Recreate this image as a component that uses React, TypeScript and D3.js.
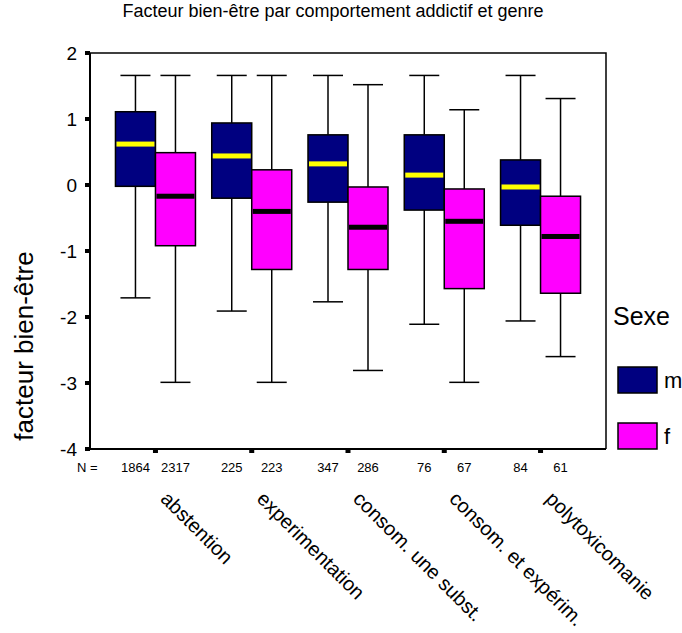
import { useRef, useEffect } from "react";
import * as d3 from "d3";

const categories = [
  "abstention",
  "experimentation",
  "consom. une subst.",
  "consom. et expérim.",
  "polytoxicomanie",
];
const sexes = ["m", "f"];
const yTicks = [2, 1, 0, -1, -2, -3, -4];

const nMale = [1864, 225, 347, 76, 84];
const nFemale = [2317, 223, 286, 67, 61];

const maleMin = [-1.71, -1.91, -1.77, -2.11, -2.06];
const maleQ1 = [-0.02, -0.2, -0.26, -0.38, -0.61];
const maleMedian = [0.62, 0.44, 0.32, 0.15, -0.03];
const maleQ3 = [1.11, 0.94, 0.76, 0.76, 0.38];
const maleMax = [1.66, 1.66, 1.66, 1.66, 1.66];

const femaleMin = [-2.99, -2.99, -2.81, -2.99, -2.6];
const femaleQ1 = [-0.92, -1.28, -1.28, -1.57, -1.64];
const femaleMedian = [-0.17, -0.4, -0.64, -0.55, -0.78];
const femaleQ3 = [0.49, 0.23, -0.03, -0.06, -0.17];
const femaleMax = [1.66, 1.66, 1.52, 1.14, 1.31];

const FONT = "'Liberation Sans', Arial, Helvetica, sans-serif";

const BoxChart = ({ width = 682, height = 633 }) => {
  const ref = useRef(null);

  useEffect(() => {
    if (!ref.current) return;
    const svg = d3.select(ref.current);
    svg.selectAll("*").remove(); // clear previous content

    const left = 90,
      right = 606,
      top = 53,
      bottom = 449;

    const y = d3.scaleLinear().domain([-4, 2]).range([bottom, top]);
    const x = d3.scalePoint().domain(categories).range([left, right]).padding(0.68);
    const sub = d3.scaleBand().domain(sexes).range([-40, 40]);
    const color = d3.scaleOrdinal().domain(sexes).range(["#000080", "#ff00ff"]);
    const medColor = d3.scaleOrdinal().domain(sexes).range(["#ffff00", "#000000"]);

    const rows = [];
    categories.forEach((c, i) => {
      rows.push({ cat: c, sex: "m", n: nMale[i], lo: maleMin[i], q1: maleQ1[i], med: maleMedian[i], q3: maleQ3[i], hi: maleMax[i] });
      rows.push({ cat: c, sex: "f", n: nFemale[i], lo: femaleMin[i], q1: femaleQ1[i], med: femaleMedian[i], q3: femaleQ3[i], hi: femaleMax[i] });
    });

    svg.attr("width", width).attr("height", height).style("font-family", FONT);

    // title
    svg
      .append("text")
      .attr("x", 333)
      .attr("y", 17)
      .attr("text-anchor", "middle")
      .style("font-size", "18px")
      .text("Facteur bien-être par comportement addictif et genre");

    // frame: top and right
    svg
      .append("path")
      .attr("d", `M${left},${top}H${right}V${bottom}`)
      .attr("fill", "none")
      .attr("stroke", "#000")
      .attr("stroke-width", 1.5);

    const bw = sub.bandwidth();
    const cx = (d) => x(d.cat) + sub(d.sex) + bw / 2;

    const g = svg.append("g");
    const box = g.selectAll("g.box").data(rows).enter().append("g");

    // whiskers
    box
      .append("line")
      .attr("x1", cx)
      .attr("x2", cx)
      .attr("y1", (d) => y(d.hi))
      .attr("y2", (d) => y(d.q3))
      .attr("stroke", "#000")
      .attr("stroke-width", 1.5);
    box
      .append("line")
      .attr("x1", cx)
      .attr("x2", cx)
      .attr("y1", (d) => y(d.q1))
      .attr("y2", (d) => y(d.lo))
      .attr("stroke", "#000")
      .attr("stroke-width", 1.5);
    ["hi", "lo"].forEach((k) => {
      box
        .append("line")
        .attr("x1", (d) => cx(d) - 15)
        .attr("x2", (d) => cx(d) + 15)
        .attr("y1", (d) => y(d[k]))
        .attr("y2", (d) => y(d[k]))
        .attr("stroke", "#000")
        .attr("stroke-width", 1.5);
    });

    // boxes
    box
      .append("rect")
      .attr("x", (d) => x(d.cat) + sub(d.sex))
      .attr("width", bw)
      .attr("y", (d) => y(d.q3))
      .attr("height", (d) => y(d.q1) - y(d.q3))
      .attr("fill", (d) => color(d.sex))
      .attr("stroke", "#000")
      .attr("stroke-width", 1.5);

    // medians
    box
      .append("rect")
      .attr("x", (d) => x(d.cat) + sub(d.sex) + 1)
      .attr("width", bw - 2)
      .attr("y", (d) => y(d.med) - 2.5)
      .attr("height", 5)
      .attr("fill", (d) => medColor(d.sex));

    // left and bottom axis
    svg
      .append("path")
      .attr("d", `M${left},${top}V${bottom}H${right}`)
      .attr("fill", "none")
      .attr("stroke", "#000")
      .attr("stroke-width", 2);

    // y ticks
    svg
      .selectAll("rect.yt")
      .data(yTicks)
      .enter()
      .append("rect")
      .attr("x", left - 5)
      .attr("y", (d) => y(d) - 2)
      .attr("width", 5)
      .attr("height", 4)
      .attr("fill", "#000");
    svg
      .selectAll("text.yl")
      .data(yTicks)
      .enter()
      .append("text")
      .attr("x", 77)
      .attr("y", (d) => y(d))
      .attr("dy", "0.36em")
      .attr("text-anchor", "end")
      .style("font-size", "19px")
      .text((d) => d);

    // x ticks
    svg
      .selectAll("rect.xt")
      .data(categories)
      .enter()
      .append("rect")
      .attr("x", (d) => x(d) - 2.5)
      .attr("y", bottom)
      .attr("width", 5)
      .attr("height", 4)
      .attr("fill", "#000");

    // N row
    svg
      .append("text")
      .attr("x", 77)
      .attr("y", 472)
      .style("font-size", "13px")
      .text("N =");
    svg
      .selectAll("text.n")
      .data(rows)
      .enter()
      .append("text")
      .attr("x", cx)
      .attr("y", 472)
      .attr("text-anchor", "middle")
      .style("font-size", "13px")
      .text((d) => d.n);

    // category labels
    svg
      .selectAll("text.cat")
      .data(categories)
      .enter()
      .append("text")
      .attr("transform", (d) => `translate(${x(d) + 4},500) rotate(45)`)
      .style("font-size", "20px")
      .text((d) => d);

    // y label
    svg
      .append("text")
      .attr("transform", "translate(33,346) rotate(-90)")
      .attr("text-anchor", "middle")
      .style("font-size", "26px")
      .text("facteur bien-être");

    // legend
    svg
      .append("text")
      .attr("x", 613)
      .attr("y", 325)
      .style("font-size", "25px")
      .text("Sexe");
    const leg = svg
      .selectAll("g.leg")
      .data(sexes)
      .enter()
      .append("g")
      .attr("transform", (d, i) => `translate(618,${367 + i * 56})`);
    leg
      .append("rect")
      .attr("width", 39)
      .attr("height", 26)
      .attr("fill", (d) => color(d))
      .attr("stroke", "#000")
      .attr("stroke-width", 1.5);
    leg
      .append("text")
      .attr("x", 46)
      .attr("y", 21)
      .style("font-size", "22px")
      .text((d) => d);
  }, [width, height]);

  return <svg ref={ref} style={{ position: "absolute", left: 0, top: 0 }} />;
};

export default function App() {
  return <BoxChart />;
}
